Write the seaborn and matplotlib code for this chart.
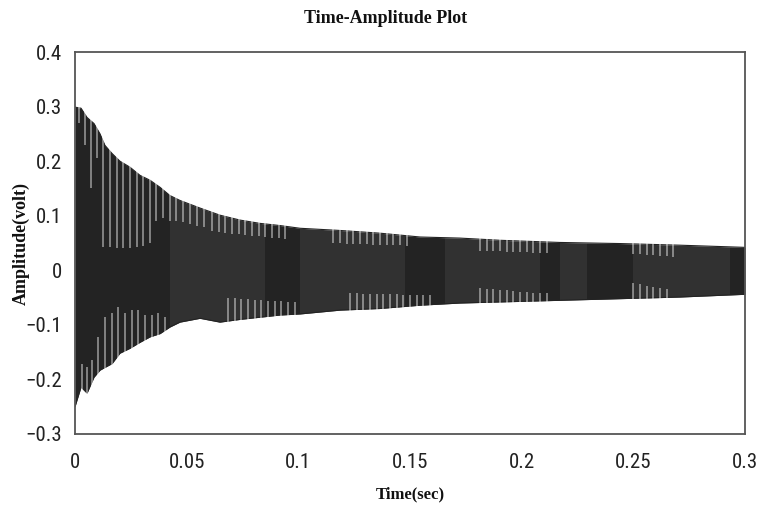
import numpy as np
import matplotlib.pyplot as plt
import seaborn as sns
from matplotlib import font_manager

# envelope of the decaying signal (time in s, volt)
t_env = [0.0, 0.0027, 0.0054, 0.0085, 0.0112, 0.0134, 0.0166, 0.0201, 0.0246,
         0.0291, 0.0336, 0.0381, 0.0425, 0.047, 0.0560, 0.0649, 0.0739, 0.0828,
         0.0918, 0.1008, 0.1187, 0.1366, 0.1545, 0.1724, 0.1903, 0.2172,
         0.2440, 0.2709, 0.3]
upper = [0.299, 0.297, 0.280, 0.269, 0.250, 0.229, 0.214, 0.200, 0.189,
         0.174, 0.165, 0.152, 0.137, 0.128, 0.114, 0.101, 0.092, 0.086,
         0.082, 0.077, 0.073, 0.068, 0.061, 0.059, 0.055, 0.051,
         0.049, 0.046, 0.042]
lower = [-0.250, -0.214, -0.225, -0.196, -0.183, -0.178, -0.171, -0.152, -0.143,
         -0.132, -0.122, -0.116, -0.104, -0.095, -0.088, -0.095, -0.090, -0.086,
         -0.082, -0.080, -0.073, -0.070, -0.064, -0.060, -0.058, -0.055,
         -0.052, -0.049, -0.044]

# cycles whose positive peak falls short of the envelope: time, peak value
gap_hi_t = [0.0018, 0.0045, 0.0072, 0.0099, 0.0125, 0.0157, 0.0188, 0.0215,
            0.0246, 0.0278, 0.0305, 0.0336, 0.0363, 0.0394, 0.0425, 0.0452,
            0.0484, 0.0515, 0.0546, 0.0578,
            0.0614, 0.0645, 0.0672, 0.0703, 0.0734, 0.0761, 0.0793, 0.0824,
            0.0851, 0.0882, 0.0914, 0.0940,
            0.1155, 0.1187, 0.1218, 0.1245, 0.1276, 0.1308, 0.1335, 0.1366,
            0.1397, 0.1424, 0.1455, 0.1487,
            0.1814, 0.1845, 0.1872, 0.1903, 0.1935, 0.1962, 0.1993, 0.2024,
            0.2051, 0.2082, 0.2114,
            0.2499, 0.2530, 0.2562, 0.2588, 0.2620, 0.2651, 0.2678]
gap_hi_v = [0.270, 0.229, 0.150, 0.205, 0.042, 0.042, 0.040, 0.040,
            0.040, 0.042, 0.045, 0.050, 0.090, 0.095, 0.090, 0.090,
            0.088, 0.085, 0.082, 0.080,
            0.072, 0.071, 0.069, 0.067, 0.066, 0.064, 0.063, 0.062,
            0.061, 0.060, 0.059, 0.058,
            0.050, 0.050, 0.049, 0.049, 0.048, 0.048, 0.047, 0.047,
            0.046, 0.046, 0.046, 0.045,
            0.036, 0.036, 0.035, 0.035, 0.034, 0.034, 0.033, 0.033,
            0.032, 0.032, 0.031,
            0.030, 0.029, 0.028, 0.028, 0.027, 0.026, 0.025]

# cycles whose negative peak falls short of the envelope: time, peak value
gap_lo_t = [0.0031, 0.0054, 0.0076, 0.0103, 0.0134, 0.0166, 0.0193, 0.0224,
            0.0255, 0.0282, 0.0313, 0.0345, 0.0372, 0.0403,
            0.0685, 0.0717, 0.0743, 0.0775, 0.0806, 0.0833, 0.0864, 0.0896,
            0.0923, 0.0954, 0.0985,
            0.1232, 0.1263, 0.1290, 0.1321, 0.1352, 0.1379, 0.1411, 0.1442,
            0.1469, 0.1500, 0.1532, 0.1558, 0.1590,
            0.1814, 0.1845, 0.1872, 0.1903, 0.1935, 0.1962, 0.1993, 0.2024,
            0.2051, 0.2082, 0.2114,
            0.2499, 0.2530, 0.2562, 0.2588, 0.2620, 0.2651]
gap_lo_v = [-0.171, -0.178, -0.165, -0.123, -0.086, -0.079, -0.068, -0.079,
            -0.073, -0.073, -0.082, -0.082, -0.079, -0.086,
            -0.050, -0.051, -0.052, -0.053, -0.054, -0.055, -0.056, -0.057,
            -0.057, -0.058, -0.058,
            -0.042, -0.042, -0.043, -0.043, -0.043, -0.044, -0.044, -0.044,
            -0.045, -0.045, -0.045, -0.045, -0.045,
            -0.033, -0.034, -0.035, -0.036, -0.037, -0.038, -0.039, -0.040,
            -0.041, -0.042, -0.042,
            -0.024, -0.026, -0.028, -0.030, -0.033, -0.035]

# stretches where the trace looks a shade lighter (start, end in s)
light_start = [0.0425, 0.1008, 0.1657, 0.2172, 0.2499]
light_end = [0.0851, 0.1478, 0.2082, 0.2293, 0.2933]

x_ticks = [0, 0.05, 0.1, 0.15, 0.2, 0.25, 0.3]
x_labels = ['0', '0.05', '0.1', '0.15', '0.2', '0.25', '0.3']
y_ticks = [-0.3, -0.2, -0.1, 0, 0.1, 0.2, 0.3, 0.4]
y_labels = ['\u22120.3', '\u22120.2', '\u22120.1', '0', '0.1', '0.2', '0.3', '0.4']

sns.set_theme(style='white')

# a narrow sans for the tick labels if one is installed
tick_kw = {'fontfamily': 'Liberation Sans', 'fontsize': 13}
fonts = font_manager.fontManager.ttflist
names = {f.name for f in fonts}
for fam in ['Liberation Sans Narrow', 'Roboto Condensed', 'Open Sans Condensed']:
    if fam in names:
        tick_kw = {'fontfamily': fam, 'fontsize': 15}
        break
else:
    for f in fonts:
        if f.name in ('DejaVu Sans', 'Open Sans', 'Roboto', 'Noto Sans') and \
                str(f.stretch) in ('condensed', 'semi-condensed', '75', '87.5') and f.weight in (400, 'normal'):
            tick_kw = {'fontfamily': f.name, 'fontstretch': f.stretch, 'fontsize': 15}
            break

fig = plt.figure(figsize=(7.62, 5.13), dpi=100)
ax = fig.add_axes([0.0984, 0.154, 0.8793, 0.7446])

sig_col = '#232323'
ax.fill_between(t_env, lower, upper, color=sig_col, linewidth=0)
sns.lineplot(x=t_env, y=upper, ax=ax, color=sig_col, linewidth=0.8)
sns.lineplot(x=t_env, y=lower, ax=ax, color=sig_col, linewidth=0.8)

# lighter stretches (white veil only shows over the trace)
for a, b in zip(light_start, light_end):
    ax.axvspan(a, b, color='white', alpha=0.065, linewidth=0)

# short cycles show as pale stripes from the edge of the trace
ax.vlines(gap_hi_t, gap_hi_v, 0.4, color='white', alpha=0.5, linewidth=1.2)
ax.vlines(gap_lo_t, -0.3, gap_lo_v, color='white', alpha=0.5, linewidth=1.2)

ax.set_xlim(0, 0.3)
ax.set_ylim(-0.3, 0.4)
ax.set_xticks(x_ticks)
ax.set_xticklabels(x_labels, color='#222222', **tick_kw)
ax.set_yticks(y_ticks)
ax.set_yticklabels(y_labels, color='#222222', **tick_kw)
ax.tick_params(axis='both', length=0)
ax.tick_params(axis='y', pad=9)
ax.tick_params(axis='x', pad=14)

for s in ax.spines.values():
    s.set_color('#555555')
    s.set_linewidth(1.3)

ax.set_title('Time-Amplitude Plot', fontfamily='Liberation Serif', fontweight='bold',
             fontsize=13, pad=21, color='#111111', x=0.463)
ax.set_xlabel('Time(sec)', fontfamily='Liberation Serif', fontweight='bold',
              fontsize=12, labelpad=10, color='#111111')
ax.set_ylabel('Amplitude(volt)', fontfamily='Liberation Serif', fontweight='bold',
              fontsize=13, color='#111111')
ax.yaxis.set_label_coords(-0.068, 0.5)

fig.savefig('out.png', dpi=100)
